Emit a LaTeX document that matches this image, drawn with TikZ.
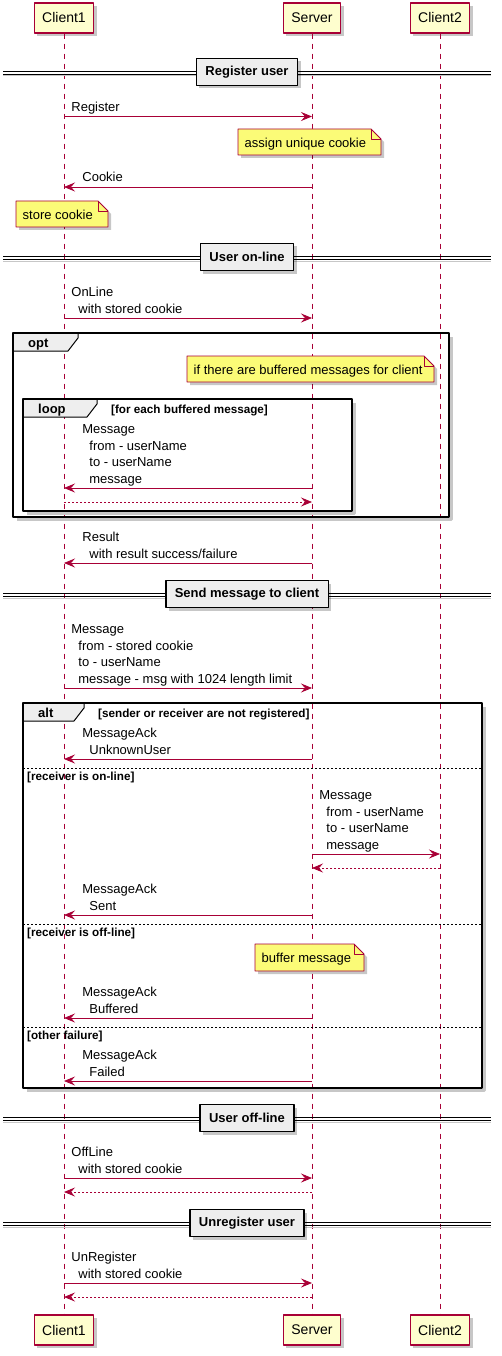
\documentclass[tikz,border=0pt]{standalone}
\usepackage{fontspec}
\setmainfont{Liberation Sans}
\usetikzlibrary{arrows.meta,shadows}
\definecolor{umlred}{HTML}{A80036}
\definecolor{partbg}{HTML}{FEFECE}
\definecolor{notebg}{HTML}{FBFB77}
\definecolor{tabbg}{HTML}{EEEEEE}
\newcommand\msgfont{\fontsize{13}{16.5}\selectfont}
\newcommand\condfont{\fontsize{11.7}{14}\selectfont\bfseries}
\newcommand\mlines[1]{\begin{tabular}[b]{@{}l@{}}#1\end{tabular}}
\newcommand\indt{\hspace*{7pt}}
\tikzset{
  shade/.style={drop shadow={shadow xshift=3pt, shadow yshift=-3pt, fill=black, opacity=.22}},
  part/.style={draw=umlred, fill=partbg, line width=1.1pt, minimum height=30pt, inner xsep=8pt,
    font=\fontsize{14}{16}\selectfont, shade},
  life/.style={draw=umlred, line width=.8pt, dash pattern=on 5pt off 5pt},
  msg/.style={->, draw=umlred, line width=.8pt},
  ret/.style={msg, dash pattern=on 2pt off 2pt},
  lbl/.style={anchor=base west, inner sep=0pt, font=\msgfont},
  lblr/.style={lbl, pos=0, xshift=7pt, yshift=5pt},
  lbll/.style={lbl, pos=1, xshift=18pt, yshift=5pt},
  notebox/.style={draw=umlred, fill=notebg, line width=.8pt, shade},
  notefold/.style={draw=umlred, line width=.8pt},
  notetxt/.style={anchor=base west, inner sep=0pt, font=\msgfont},
  divline/.style={draw=black, line width=.9pt},
  divshade/.style={draw=black!22, line width=1pt},
  divbox/.style={draw=black, fill=tabbg, line width=1.5pt, minimum height=27pt, inner xsep=9pt,
    font=\fontsize{13}{15}\selectfont\bfseries, shade},
  framebox/.style={draw=black, line width=1.8pt},
  frameshade/.style={draw=black!22, line width=2.5pt},
  tabshape/.style={draw=black, fill=tabbg, line width=1pt},
  kindtxt/.style={anchor=base west, inner sep=0pt, font=\fontsize{13}{15}\selectfont\bfseries},
  condtxt/.style={anchor=base west, inner sep=0pt, font=\condfont},
  sepline/.style={draw=black, line width=.8pt, dash pattern=on 2pt off 2pt}
}
% name, y, text
\newcommand\umldivider[3]{%
  \draw[divshade] (3,#2+4) -- (491,#2+4);
  \draw[divline] (3,#2-1) -- (491,#2-1) (3,#2+2) -- (491,#2+2);
  \node[divbox] (#1) at (247,#2) {#3};}
% name, x1, y1, x2, y2, text
\newcommand\umlnote[6]{%
  \filldraw[notebox] (#2,#3) -- (#4-10,#3) -- (#4,#3+10) -- (#4,#5) -- (#2,#5) -- cycle;
  \draw[notefold] (#4-10,#3) |- (#4,#3+10);
  \node[notetxt] (#1) at (#2+6.5,#3+18.5) {#6};}
% name, x1, y1, x2, y2, tab width, kind
\newcommand\umlframe[7]{%
  \draw[frameshade] (#2+4,#5+2.5) -- (#4+2.5,#5+2.5) -- (#4+2.5,#3+4);
  \filldraw[tabshape] (#2,#3) -- (#2+#6,#3) -- (#2+#6,#3+5) -- (#2+#6-10,#3+18) -- (#2,#3+18);
  \node[kindtxt] (#1) at (#2+15,#3+14.7) {#7};
  \draw[framebox] (#2,#3) rectangle (#4,#5);}
% name, y, text
\newcommand\umlsep[3]{%
  \draw[sepline] (23,#2) -- (482,#2);
  \node[condtxt] (#1) at (27,#2+12) {#3};}
\begin{document}
\begin{tikzpicture}[x=1pt, y=-1pt, line join=round, >={Stealth[length=11pt,width=9pt,inset=4pt]}]
\useasboundingbox (0,0) rectangle (502,1356);
% lifelines
\coordinate (c1) at (64,0);
\coordinate (srv) at (312,0);
\coordinate (c2) at (440,0);
\foreach \p/\t in {c1/Client1, srv/Server, c2/Client2} {
  \node[part] (\p-top) at (\p |- 0,18) {\t};
  \node[part] (\p-bot) at (\p |- 0,1330) {\t};
  \draw[life] (\p-top) -- (\p-bot);
}
% register user
\umldivider{regdiv}{72}{Register user}
\draw[msg] (c1 |- 0,116.5) -- node[lblr] {Register} (srv |- 0,116.5);
\umlnote{cookienote}{238}{129}{381}{155}{assign unique cookie}
\draw[msg] (srv |- 0,187) -- node[lbll] {Cookie} (c1 |- 0,187);
\umlnote{storenote}{16}{201}{108}{227}{store cookie}
% user on-line
\umldivider{ondiv}{257}{User on-line}
\draw[msg] (c1 |- 0,318) -- node[lblr] {\mlines{OnLine\\\indt with stored cookie}} (srv |- 0,318);
\umlframe{opt}{13}{333}{449}{517}{65}{opt}
\umlnote{bufnote}{187}{356}{434}{382}{if there are buffered messages for client}
\umlframe{loop}{23}{399}{352}{511}{74}{loop}
\node[condtxt] (loopcond) at (111,413.5) {[for each buffered message]};
\draw[msg] (srv |- 0,488) -- node[lbll] {\mlines{Message\\\indt from - userName\\\indt to - userName\\\indt message}} (c1 |- 0,488);
\draw[ret] (c1 |- 0,502) -- (srv |- 0,502);
\draw[msg] (srv |- 0,563) -- node[lbll] {\mlines{Result\\\indt with result success/failure}} (c1 |- 0,563);
% send message to client
\umldivider{senddiv}{594}{Send message to client}
\draw[msg] (c1 |- 0,688) -- node[lblr] {\mlines{Message\\\indt from - stored cookie\\\indt to - userName\\\indt message - msg with 1024 length limit}} (srv |- 0,688);
\umlframe{alt}{23}{703}{482}{1088}{61}{alt}
\node[condtxt] (altcond) at (98,717.5) {[sender or receiver are not registered]};
\draw[msg] (srv |- 0,759) -- node[lbll] {\mlines{MessageAck\\\indt UnknownUser}} (c1 |- 0,759);
\umlsep{onsep}{768}{[receiver is on-line]}
\draw[msg] (srv |- 0,854) -- node[lblr] {\mlines{Message\\\indt from - userName\\\indt to - userName\\\indt message}} (c2 |- 0,854);
\draw[ret] (c2 |- 0,868) -- (srv |- 0,868);
\draw[msg] (srv |- 0,915) -- node[lbll] {\mlines{MessageAck\\\indt Sent}} (c1 |- 0,915);
\umlsep{offsep}{924}{[receiver is off-line]}
\umlnote{bufmsg}{255}{944}{364}{971}{buffer message}
\draw[msg] (srv |- 0,1018) -- node[lbll] {\mlines{MessageAck\\\indt Buffered}} (c1 |- 0,1018);
\umlsep{failsep}{1027}{[other failure]}
\draw[msg] (srv |- 0,1081) -- node[lbll] {\mlines{MessageAck\\\indt Failed}} (c1 |- 0,1081);
% user off-line
\umldivider{offdiv}{1118}{User off-line}
\draw[msg] (c1 |- 0,1178) -- node[lblr] {\mlines{OffLine\\\indt with stored cookie}} (srv |- 0,1178);
\draw[ret] (srv |- 0,1192) -- (c1 |- 0,1192);
% unregister user
\umldivider{unregdiv}{1223}{Unregister user}
\draw[msg] (c1 |- 0,1283) -- node[lblr] {\mlines{UnRegister\\\indt with stored cookie}} (srv |- 0,1283);
\draw[ret] (srv |- 0,1297) -- (c1 |- 0,1297);
\end{tikzpicture}
\end{document}
